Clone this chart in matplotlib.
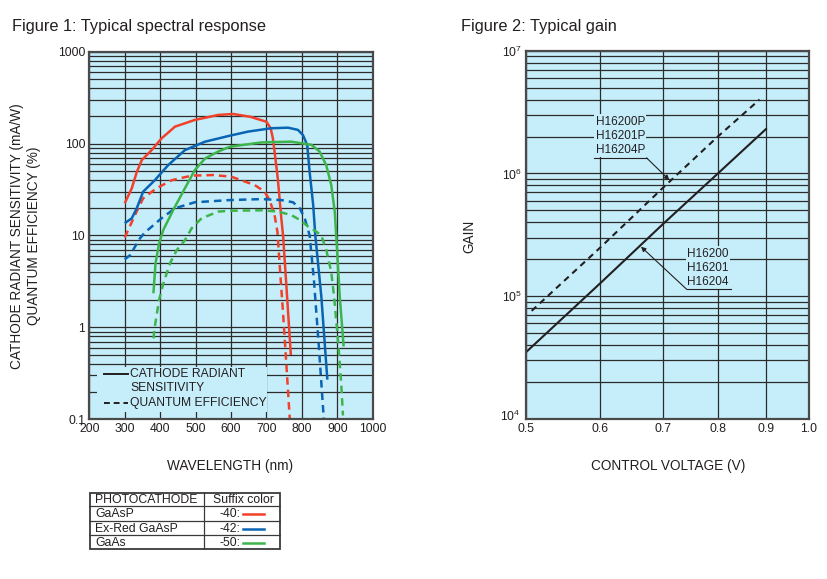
import matplotlib
matplotlib.use('Agg')
import matplotlib.pyplot as plt
import matplotlib.transforms as mtransforms
import numpy as np
from matplotlib.patches import Rectangle
from matplotlib.ticker import LogLocator, NullFormatter, NullLocator

plt.rcParams['font.family'] = ['Liberation Sans', 'DejaVu Sans']
plt.rcParams['mathtext.fontset'] = 'custom'
plt.rcParams['mathtext.rm'] = 'Liberation Sans'

# ---------------- data: Figure 1 (spectral response) ----------------
wl_ticks = [200, 300, 400, 500, 600, 700, 800, 900, 1000]
sens_ticks = [0.1, 1, 10, 100, 1000]
sens_tick_labels = ['0.1', '1', '10', '100', '1000']

gaasp_sens_wl = [300, 320, 334, 348, 376, 404, 442, 498, 564, 606, 654, 700, 712, 718, 723, 732, 742, 747, 755, 762, 769]
gaasp_sens = [22.4, 32.7, 49, 66, 85, 114, 153, 181, 205, 210, 196, 173, 147, 115, 82, 42, 15.4, 10, 3.4, 1.3, 0.5]

gaasp_qe_wl = [300, 312, 329, 352, 390, 433, 489, 550, 601, 667, 695, 709, 723, 731, 737, 747, 756, 766]
gaasp_qe = [9.5, 12, 16.7, 25.4, 32.7, 40, 44.8, 45.5, 43.6, 35.4, 30, 24.3, 16.7, 11, 5, 1.42, 0.41, 0.1]

exred_sens_wl = [300, 320, 334, 352, 385, 423, 470, 527, 597, 648, 714, 761, 789, 803, 815, 822, 832, 838, 855, 872]
exred_sens = [13.6, 15.4, 19.8, 30, 40, 58.5, 85, 105, 122, 135, 147, 149, 141, 124, 97, 49, 21.5, 10, 2.16, 0.27]

exred_qe_wl = [300, 315, 329, 343, 357, 404, 442, 498, 597, 686, 742, 775, 794, 808, 815, 822, 834, 848, 862]
exred_qe = [5.5, 6.1, 7.55, 9.3, 10.8, 15.4, 19.8, 23, 24.3, 24.9, 24.3, 23, 19.8, 15.4, 12.5, 10, 3.3, 0.62, 0.1]

gaas_sens_wl = [381, 387, 397, 409, 437, 470, 498, 527, 564, 597, 686, 770, 798, 827, 850, 869, 883, 893, 897, 907, 918]
gaas_sens = [2.35, 5, 8.2, 11.5, 19, 32.7, 51.6, 69, 82, 92.5, 103, 105, 101, 97, 82, 58, 35.5, 18, 10, 2.16, 0.62]

gaas_qe_wl = [381, 385, 397, 409, 428, 447, 470, 489, 517, 564, 597, 686, 733, 770, 794, 818, 841, 855, 869, 883, 891, 902, 911, 916]
gaas_qe = [0.76, 1.02, 2, 3.0, 5, 6.95, 8.9, 12, 15.4, 18.2, 18.6, 18.8, 18.2, 16.7, 14.8, 12.5, 11, 10, 6.95, 4, 2.16, 0.73, 0.25, 0.11]

photocathodes = ['GaAsP', 'Ex-Red GaAsP', 'GaAs']
suffixes = ['-40:', '-42:', '-50:']

# ---------------- data: Figure 2 (gain) ----------------
volt_ticks = [0.5, 0.6, 0.7, 0.8, 0.9, 1.0]
volt_tick_labels = ['0.5', '0.6', '0.7', '0.8', '0.9', '1.0']
gain_ticks = [1e4, 1e5, 1e6, 1e7]
gain_tick_labels = [r'$\mathregular{10^{4}}$', r'$\mathregular{10^{5}}$',
                    r'$\mathregular{10^{6}}$', r'$\mathregular{10^{7}}$']

std_volt = [0.5, 0.6, 0.7, 0.8, 0.9]
std_gain = [3.5e4, 1.28e5, 3.9e5, 1.0e6, 2.3e6]
p_volt = [0.507, 0.6, 0.7, 0.8, 0.886]
p_gain = [7.6e4, 2.5e5, 7.7e5, 2.0e6, 4.0e6]
std_models = 'H16200\nH16201\nH16204'
p_models = 'H16200P\nH16201P\nH16204P'

# ---------------- style ----------------
W, H = 828, 579
BG = '#c6eefa'
GRID = '#2b2b2b'
RED, BLUE, GREEN = '#f2402a', '#0a64b4', '#3db54a'
series_colors = [RED, BLUE, GREEN]
TXT = '#231f20'
DASH = (0, (3, 2))

fig = plt.figure(figsize=(W / 100, H / 100), dpi=100)


def fx(px):
    return px / W


def fy(py):
    return 1 - py / H


def style_axes(ax):
    ax.set_facecolor(BG)
    ax.set_axisbelow(True)
    for s in ax.spines.values():
        s.set_color('#4a4a4a')
        s.set_linewidth(1.6)
        s.set_zorder(5)
    ax.tick_params(which='both', length=0, labelsize=8.7, colors=TXT, pad=3)


# ---------------- Figure 1 ----------------
ax1 = fig.add_axes([fx(89.3), fy(419.3), (372.7 - 89.3) / W, (419.3 - 51.7) / H])
style_axes(ax1)
ax1.set_yscale('log')
ax1.set_xlim(200, 1000)
ax1.set_ylim(0.1, 1000)
ax1.set_xticks(wl_ticks, [str(t) for t in wl_ticks])
ax1.set_yticks(sens_ticks, sens_tick_labels)
ax1.yaxis.set_minor_locator(LogLocator(base=10, subs=range(2, 10)))
ax1.yaxis.set_minor_formatter(NullFormatter())
ax1.xaxis.set_minor_locator(NullLocator())
ax1.grid(True, which='both', axis='y', color=GRID, lw=0.9)
ax1.grid(True, which='major', axis='x', color=GRID, lw=0.9)

ax1.add_patch(Rectangle((0.027, 0.02), 0.6, 0.122, transform=ax1.transAxes,
                        facecolor=BG, edgecolor='none', zorder=1))

curves = [
    (gaasp_sens_wl, gaasp_sens, RED, '-'),
    (gaasp_qe_wl, gaasp_qe, RED, DASH),
    (exred_sens_wl, exred_sens, BLUE, '-'),
    (exred_qe_wl, exred_qe, BLUE, DASH),
    (gaas_sens_wl, gaas_sens, GREEN, '-'),
    (gaas_qe_wl, gaas_qe, GREEN, DASH),
]
for x, y, c, ls in curves:
    ax1.plot(x, y, color=c, lw=1.8, ls=ls, zorder=3, solid_capstyle='butt',
             dash_capstyle='butt', solid_joinstyle='round')

# in-plot legend
ax1.plot([0.052, 0.137], [0.123, 0.123], transform=ax1.transAxes, color=TXT, lw=1.4, zorder=3)
ax1.plot([0.052, 0.137], [0.044, 0.044], transform=ax1.transAxes, color=TXT, lw=1.4,
         ls=(0, (3, 2)), zorder=3)
ax1.text(0.144, 0.123, 'CATHODE RADIANT', transform=ax1.transAxes, fontsize=8.7,
         va='center', ha='left', color=TXT, zorder=4)
ax1.text(0.144, 0.085, 'SENSITIVITY', transform=ax1.transAxes, fontsize=8.7,
         va='center', ha='left', color=TXT, zorder=4)
ax1.text(0.144, 0.044, 'QUANTUM EFFICIENCY', transform=ax1.transAxes, fontsize=8.7,
         va='center', ha='left', color=TXT, zorder=4)

fig.text(fx(12), fy(27), 'Figure 1: Typical spectral response', fontsize=11.8,
         ha='left', va='center', color=TXT)
fig.text(fx(230.5), fy(466), 'WAVELENGTH (nm)', fontsize=9.8, ha='center', va='center', color=TXT)
fig.text(fx(17.5), fy(236), 'CATHODE RADIANT SENSITIVITY (mA/W)', fontsize=9.8,
         rotation=90, ha='center', va='center', color=TXT)
fig.text(fx(34.5), fy(236), 'QUANTUM EFFICIENCY (%)', fontsize=9.8,
         rotation=90, ha='center', va='center', color=TXT)

# ---------------- table ----------------
tx0, tx1, ty0, ty1 = 89.3, 281, 492.3, 550
tax = fig.add_axes([fx(tx0), fy(ty1), (tx1 - tx0) / W, (ty1 - ty0) / H])
tax.set_xlim(tx0, tx1)
tax.set_ylim(ty1, ty0)
tax.axis('off')
tax.add_patch(Rectangle((tx0 + 0.6, ty0 + 0.6), tx1 - tx0 - 1.2, ty1 - ty0 - 1.2,
                        facecolor='white', edgecolor='#3a3a3a', lw=1.3))
col_x = 204
row_edges = [ty0, 506, 520.7, 535.3, ty1]
tax.plot([col_x, col_x], [ty0, ty1], color='#3a3a3a', lw=0.9)
for yy in row_edges[1:-1]:
    tax.plot([tx0, tx1], [yy, yy], color='#3a3a3a', lw=0.9)
centers = [(row_edges[i] + row_edges[i + 1]) / 2 for i in range(4)]
TFS = 8.8
tax.text(95.5, centers[0] + 0.5, 'PHOTOCATHODE', fontsize=TFS, va='center', ha='left', color=TXT)
tax.text(243, centers[0] + 0.5, 'Suffix color', fontsize=TFS, va='center', ha='center', color=TXT)
for i, (name, suf, col) in enumerate(zip(photocathodes, suffixes, series_colors)):
    cy = centers[i + 1] + 0.5
    tax.text(95.5, cy, name, fontsize=TFS, va='center', ha='left', color=TXT)
    tax.text(240.5, cy, suf, fontsize=TFS, va='center', ha='right', color=TXT)
    tax.plot([243.5, 264.5], [cy, cy], color=col, lw=1.8)

# ---------------- Figure 2 ----------------
ax2 = fig.add_axes([fx(526), fy(419), (809 - 526) / W, (419 - 50.7) / H])
style_axes(ax2)
ax2.set_xscale('log')
ax2.set_yscale('log')
ax2.set_xlim(0.5, 1.0)
ax2.set_ylim(1e4, 1e7)
ax2.set_xticks(volt_ticks, volt_tick_labels)
ax2.xaxis.set_minor_locator(NullLocator())
ax2.xaxis.set_minor_formatter(NullFormatter())
ax2.set_yticks(gain_ticks, gain_tick_labels)
ax2.yaxis.set_minor_locator(LogLocator(base=10, subs=range(2, 10)))
ax2.yaxis.set_minor_formatter(NullFormatter())
ax2.grid(True, which='both', axis='y', color=GRID, lw=0.9)
ax2.grid(True, which='major', axis='x', color=GRID, lw=0.9)

# nudge the bottom y label up a little so it clears the "0.5" x label
fig.canvas.draw()
bottom_lab = ax2.get_yticklabels()[0]
bottom_lab.set_transform(bottom_lab.get_transform() +
                         mtransforms.ScaledTranslation(-1 / 72, 3 / 72, fig.dpi_scale_trans))

ax2.plot(std_volt, std_gain, color=TXT, lw=1.5, zorder=3)
ax2.plot(p_volt, p_gain, color=TXT, lw=1.5, ls=(0, (3, 2.3)), zorder=3)


def on_line(v, xs, ys):
    return 10 ** np.interp(np.log10(v), np.log10(xs), np.log10(ys))


box = dict(boxstyle='square,pad=0.12', fc=BG, ec='none')
arrow = dict(arrowstyle='-|>', color=TXT, lw=0.8, mutation_scale=7, shrinkA=0, shrinkB=1)

ax2.text(0.246, 0.769, p_models, transform=ax2.transAxes, fontsize=8.5, ha='left',
         va='center', linespacing=1.22, color=TXT, bbox=box, zorder=4)
ax2.plot([0.240, 0.426], [0.709, 0.709], transform=ax2.transAxes, color=TXT, lw=0.8, zorder=4)
ax2.annotate('', xy=(0.712, on_line(0.712, p_volt, p_gain)), xycoords='data',
             xytext=(0.426, 0.709), textcoords='axes fraction', arrowprops=arrow, zorder=4)

ax2.text(0.569, 0.411, std_models, transform=ax2.transAxes, fontsize=8.5, ha='left',
         va='center', linespacing=1.22, color=TXT, bbox=box, zorder=4)
ax2.plot([0.568, 0.724], [0.352, 0.352], transform=ax2.transAxes, color=TXT, lw=0.8, zorder=4)
ax2.annotate('', xy=(0.661, on_line(0.661, std_volt, std_gain)), xycoords='data',
             xytext=(0.568, 0.352), textcoords='axes fraction', arrowprops=arrow, zorder=4)

fig.text(fx(461), fy(27), 'Figure 2: Typical gain', fontsize=11.8, ha='left', va='center', color=TXT)
fig.text(fx(668.5), fy(466), 'CONTROL VOLTAGE (V)', fontsize=9.8, ha='center', va='center', color=TXT)
fig.text(fx(469), fy(236), 'GAIN', fontsize=9.8, rotation=90, ha='center', va='center', color=TXT)

fig.savefig('out.png', dpi=100, facecolor='white')
